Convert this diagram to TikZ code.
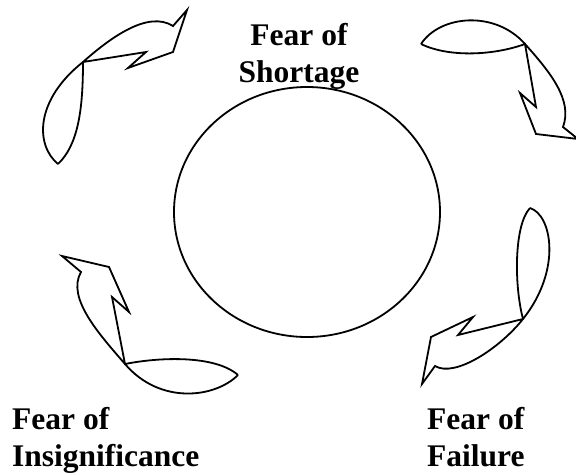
\documentclass[tikz,border=0pt]{standalone}
\usepackage{fontspec}
\setmainfont{Liberation Serif}
\usetikzlibrary{shapes.geometric}
\begin{document}
\begin{tikzpicture}[x=1pt,y=-1pt,
  outline/.style={draw=black,line width=1.8pt,line join=miter},
  fearlabel/.style={font=\bfseries\fontsize{31.5}{37}\selectfont,inner sep=0pt}]
\useasboundingbox (0,0) rectangle (576,472);

% central circle
\node[outline,ellipse,minimum width=266pt,minimum height=250pt,inner sep=0pt] (core) at (307,212) {};

% upper-left curved arrow: leaf, then shaft and head
\draw[outline] (58,164) .. controls (35,145) and (35,100) .. (83,62)
  .. controls (110,38) and (148,10) .. (173,26)
  -- (187,10) -- (173,52) -- (128,68) -- (146,52) -- (83,62)
  .. controls (83,110) and (78,145) .. (58,164);

% upper-right curved arrow
\draw[outline] (421,44) .. controls (440,15) and (495,10) .. (525,44)
  .. controls (550,72) and (573,100) .. (563,127)
  -- (578,139) -- (536,134) -- (520,93) -- (536,107) -- (525,44)
  .. controls (495,55) and (450,58) .. (421,44);

% lower-right curved arrow
\draw[outline] (530,208) .. controls (552,215) and (562,270) .. (523,319)
  .. controls (500,348) and (455,378) .. (435,366)
  -- (422,384) -- (431,337) -- (473,317) -- (458,335) -- (523,319)
  .. controls (514,285) and (514,225) .. (530,208);

% lower-left curved arrow
\draw[outline] (238,375) .. controls (215,398) and (160,405) .. (125,364)
  .. controls (100,335) and (66,298) .. (81,272)
  -- (62,256) -- (109,267) -- (129,312) -- (112,297) -- (125,364)
  .. controls (160,357) and (215,355) .. (238,375);

% labels (base anchor sits on the last line)
\node[fearlabel,align=center,anchor=base] (shortage) at (299,82) {Fear of\\Shortage};
\node[fearlabel,align=left,anchor=base west] (insignificance) at (12,466) {Fear of\\Insignificance};
\node[fearlabel,align=left,anchor=base west] (failure) at (427,466) {Fear of\\Failure};
\end{tikzpicture}
\end{document}
